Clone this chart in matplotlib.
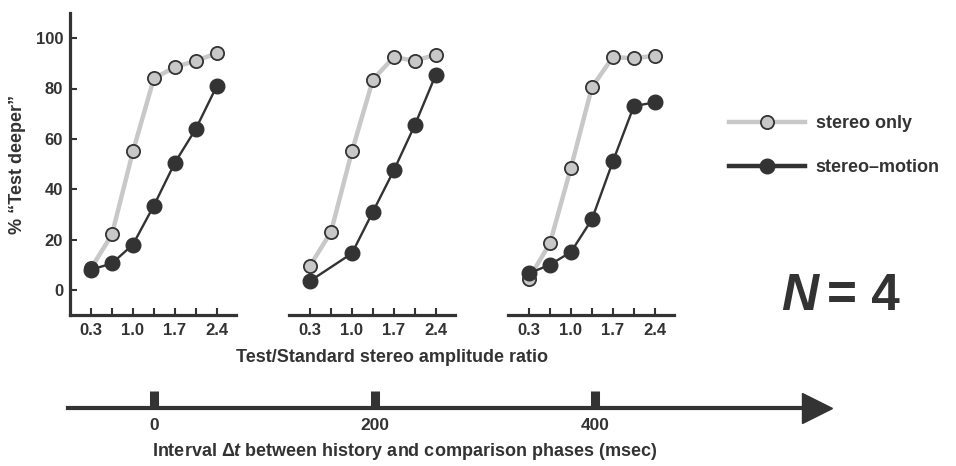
import numpy as np
import matplotlib
matplotlib.use("Agg")
import matplotlib.pyplot as plt
from matplotlib.lines import Line2D

plt.rcParams['font.family'] = ['Liberation Sans', 'DejaVu Sans']
plt.rcParams['font.weight'] = 'bold'
plt.rcParams['axes.labelweight'] = 'bold'
plt.rcParams['mathtext.fontset'] = 'custom'
plt.rcParams['mathtext.rm'] = 'Liberation Sans:bold'
plt.rcParams['mathtext.it'] = 'Liberation Sans:italic:bold'

INK = '#333333'
GREY = '#c8c8c8'

# amplitude ratios (test/standard)
ratios = [0.3, 0.65, 1.0, 1.35, 1.7, 2.05, 2.4]
tick_labels = ['0.3', '1.0', '1.7', '2.4']
intervals = [0, 200, 400]

# % "Test deeper" for each interval
stereo_only = [
    [8.5, 22, 55, 84, 88.5, 91, 94],
    [9.5, 23, 55, 83.5, 92.5, 91, 93.5],
    [4.5, 18.5, 48.5, 80.5, 92.5, 92, 93],
]
stereo_motion_x = [
    ratios,
    [0.3, 1.0, 1.35, 1.7, 2.05, 2.4],
    ratios,
]
stereo_motion = [
    [8, 10.5, 18, 33.5, 50.5, 64, 81],
    [3.5, 14.5, 31, 47.5, 65.5, 85.5],
    [6.5, 10, 15, 28, 51, 73, 74.5],
]

W, H = 956, 466
fig = plt.figure(figsize=(W / 100, H / 100), dpi=100)

def px_axes(x0, y0, x1, y1):
    # axes from pixel box (top-left origin)
    return fig.add_axes([x0 / W, 1 - y1 / H, (x1 - x0) / W, (y1 - y0) / H])

panel_left = [70, 289, 508]
for i, left in enumerate(panel_left):
    ax = px_axes(left, 13, left + 166, 315)
    ax.plot(ratios, stereo_only[i], '-o', color=GREY, lw=3.2,
            ms=9.5, mfc=GREY, mec=INK, mew=1.3, zorder=2)
    ax.plot(stereo_motion_x[i], stereo_motion[i], '-o', color=INK, lw=1.7,
            ms=10.5, mfc=INK, mec=INK, zorder=3)
    ax.set_xlim(-0.05, 2.72)
    ax.set_ylim(-10, 110)
    ax.set_xticks(ratios)
    ax.set_xticklabels([tick_labels[j // 2] if j % 2 == 0 else '' for j in range(7)])
    for s in ['top', 'right']:
        ax.spines[s].set_visible(False)
    for s in ['left', 'bottom']:
        ax.spines[s].set_linewidth(2.3)
        ax.spines[s].set_color(INK)
    ax.tick_params(axis='x', direction='in', length=5, width=1.5, color=INK,
                   labelsize=12, labelcolor=INK, pad=6)
    ax.patch.set_visible(False)
    if i == 0:
        ax.set_yticks([0, 20, 40, 60, 80, 100])
        ax.tick_params(axis='y', direction='in', length=5, width=1.5, color=INK,
                       labelsize=12, labelcolor=INK, pad=5)
        ax.set_ylabel('% \u201cTest deeper\u201d', fontsize=13, color=INK, labelpad=7)
    else:
        ax.spines['left'].set_visible(False)
        ax.set_yticks([])

fig.text(392 / W, 1 - 357 / H, 'Test/Standard stereo amplitude ratio',
         ha='center', va='center', fontsize=13, color=INK)

# legend
handles = [
    Line2D([], [], color=GREY, lw=3.2, marker='o', ms=9.5, mfc=GREY, mec=INK, mew=1.3),
    Line2D([], [], color=INK, lw=3.2, marker='o', ms=10.5, mfc=INK, mec=INK),
]
fig.legend(handles, ['stereo only', 'stereo\u2013motion'], loc='upper left',
           bbox_to_anchor=(729 / W, 1 - 115 / H), frameon=False, fontsize=13,
           handlelength=4.2, handletextpad=0.6, labelspacing=1.5,
           borderpad=0, borderaxespad=0, labelcolor=INK)

# N = 4
fig.text(818 / W, 1 - 297 / H, 'N', ha='right', va='center', fontsize=37,
         style='italic', weight='bold', color=INK)
fig.text(827 / W, 1 - 297 / H, '= 4', ha='left', va='center', fontsize=37,
         weight='bold', color=INK)

# time axis for the interval between phases
tax = px_axes(68, 380, 817, 408)
tax.set_xlim(-78, 601)
tax.set_ylim(0, 1)
for s in ['top', 'right', 'left']:
    tax.spines[s].set_visible(False)
tax.spines['bottom'].set_linewidth(3)
tax.spines['bottom'].set_color(INK)
tax.set_yticks([])
tax.set_xticks(intervals)
tax.set_xticklabels([str(v) for v in intervals])
tax.tick_params(axis='x', direction='in', length=12, width=6.5, color=INK,
                labelsize=12.5, labelcolor=INK, pad=7)
tax.plot([1], [0], marker='>', ms=21, color=INK, transform=tax.transAxes,
         clip_on=False)
tax.patch.set_visible(False)
fig.text(405 / W, 1 - 451 / H,
         r'Interval $\mathrm{\Delta}t$ between history and comparison phases (msec)',
         ha='center', va='center', fontsize=13, color=INK)

fig.savefig('out.png', dpi=100)
